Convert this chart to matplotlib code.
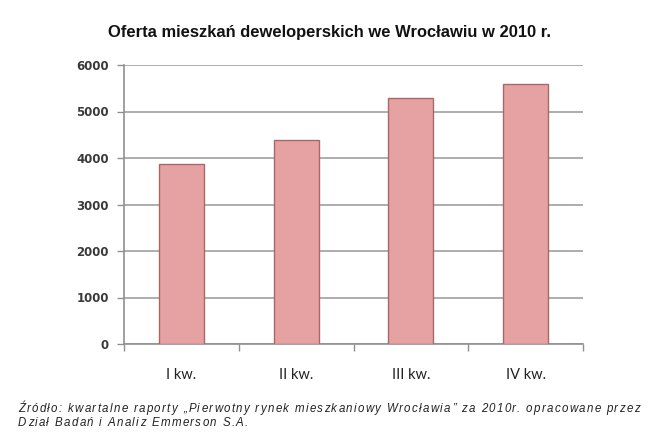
import matplotlib
matplotlib.use("Agg")
import matplotlib.pyplot as plt
from matplotlib.font_manager import FontProperties
from matplotlib.textpath import TextToPath
import numpy as np

categories = ["I kw.", "II kw.", "III kw.", "IV kw."]
values = [3880, 4380, 5290, 5600]
yticks = [0, 1000, 2000, 3000, 4000, 5000, 6000]

title = "Oferta mieszkań deweloperskich we Wrocławiu w 2010 r."
source1 = "Źródło: kwartalne raporty „Pierwotny rynek mieszkaniowy Wrocławia” za 2010r. opracowane przez"
source2 = "Dział Badań i Analiz Emmerson S.A."

W, H, DPI = 660, 447, 100
fig = plt.figure(figsize=(W/DPI, H/DPI), dpi=DPI)
ax = fig.add_axes([124/W, 1-344/H, 459/W, 279/H])

x = np.arange(len(categories))
ax.bar(x, values, width=0.39, color="#E6A2A2", edgecolor="#A86868", linewidth=1.0, zorder=3)

ax.set_xlim(-0.5, len(categories)-0.5)
ax.set_ylim(0, 6000)
ax.set_yticks(yticks)
ax.set_yticklabels([str(v) for v in yticks], fontsize=8.5, fontweight="bold", color="#3a3a3a",
                   family="DejaVu Sans")
ax.yaxis.grid(True, color="#A0A0A0", linewidth=1.2, zorder=0)
ax.set_axisbelow(True)

ax.set_xticks(x)
ax.set_xticklabels(categories, fontsize=10.5, color="#222222", family="Lato")
ax.tick_params(axis="x", length=0, pad=17)
ax.set_xticks(np.arange(-0.5, len(categories), 1), minor=True)
ax.tick_params(axis="x", which="minor", length=5, color="#909090", width=1)
ax.tick_params(axis="y", length=5, color="#909090", width=1, pad=6)

for s in ["top", "right"]:
    ax.spines[s].set_visible(False)
for s in ["left", "bottom"]:
    ax.spines[s].set_color("#909090")
    ax.spines[s].set_linewidth(1.2)

fig.text(330/W, 1-32/H, title, ha="center", va="center", fontsize=11.9, fontweight="bold",
         family="Liberation Sans", color="#111111")

# letter-spaced, justified source note
prop = FontProperties(family="Liberation Sans", style="italic", size=8.3)
t2p = TextToPath()

def char_w(c):
    w, h, d = t2p.get_text_width_height_descent(c, prop, ismath=False)
    return w * DPI / 72.0

def draw_spaced(s, x0, y, extra):
    xx = x0
    for c in s:
        if c != " ":
            fig.text(xx/W, 1-y/H, c, ha="left", va="center", fontproperties=prop, color="#222222")
        xx += char_w(c) + extra
    return xx

left, right = 18, 640
base1 = sum(char_w(c) for c in source1)
extra = (right - left - base1) / (len(source1) - 1)
draw_spaced(source1, left, 409, extra)
draw_spaced(source2, left, 423, extra)

fig.savefig("out.png", dpi=DPI, facecolor="white")
